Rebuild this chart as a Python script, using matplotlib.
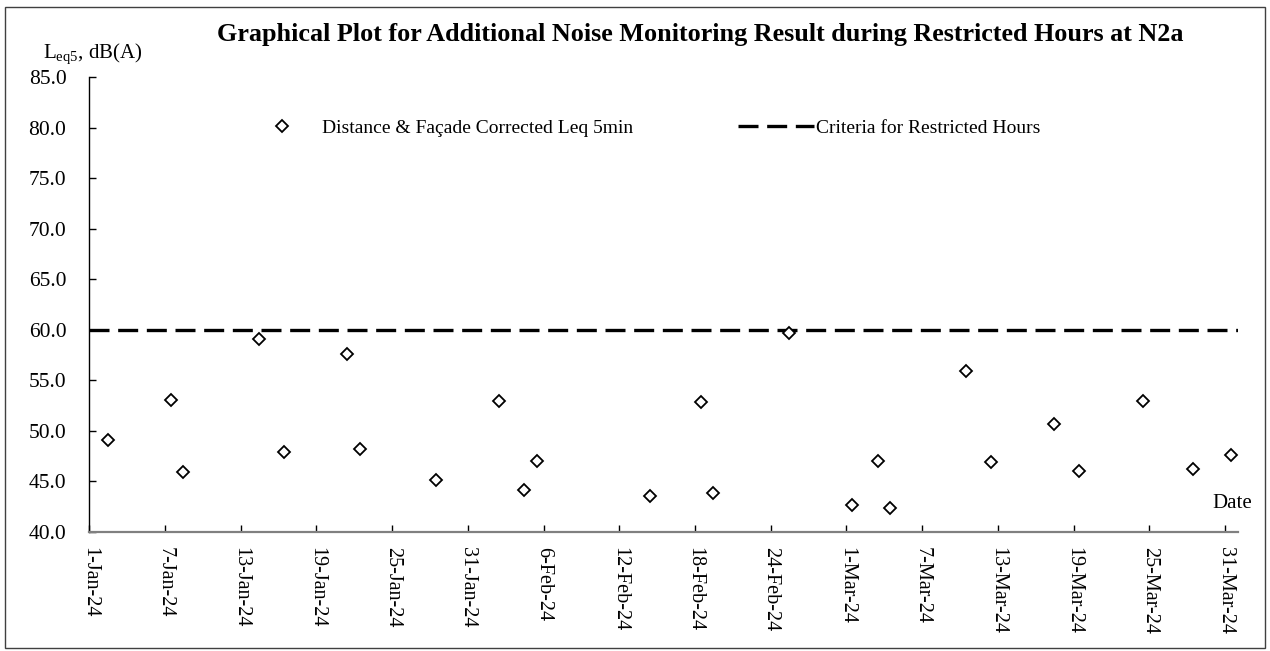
import matplotlib
matplotlib.use("Agg")
import matplotlib.pyplot as plt
import matplotlib.dates as mdates
from matplotlib.patches import Rectangle
from matplotlib.ticker import FuncFormatter, FormatStrFormatter
import numpy as np
import pandas as pd

plt.rcParams['font.family'] = ['Liberation Serif', 'DejaVu Serif']
plt.rcParams['mathtext.fontset'] = 'custom'
plt.rcParams['mathtext.rm'] = 'Liberation Serif'

# measurement dates (restricted hours) and corrected Leq 5min, dB(A)
dates = [
    "2024-01-02", "2024-01-07", "2024-01-08", "2024-01-14", "2024-01-16",
    "2024-01-21", "2024-01-22", "2024-01-28", "2024-02-02", "2024-02-04",
    "2024-02-05", "2024-02-14", "2024-02-18", "2024-02-19", "2024-02-25",
    "2024-03-01", "2024-03-03", "2024-03-04", "2024-03-10", "2024-03-12",
    "2024-03-17", "2024-03-19", "2024-03-24", "2024-03-28", "2024-03-31",
]
meas_time = "11:00"
leq = [
    49.1, 53.1, 45.9, 59.1, 47.9,
    57.6, 48.2, 45.1, 53.0, 44.2,
    47.0, 43.6, 52.9, 43.9, 59.7,
    42.7, 47.0, 42.4, 55.9, 46.9,
    50.7, 46.0, 53.0, 46.2, 47.6,
]
criteria = 60.0

x_start, x_end = "2024-01-01", "2024-04-01"
tick_step_days = 6
y_ticks = np.arange(40, 86, 5)

t = pd.to_datetime([d + " " + meas_time for d in dates])

fig = plt.figure(figsize=(12.7, 6.51), dpi=100)
ax = fig.add_axes([89.3 / 1270, 1 - 532 / 651, (1237.7 - 89.3) / 1270, (532 - 77.3) / 651])

ax.axhline(criteria, color='black', lw=2.4, linestyle=(0, (6, 2.6)),
           label='Criteria for Restricted Hours')
ax.plot(t, leq, linestyle='none', marker='D', ms=6.3, mfc='white', mec='black',
        mew=1.3, label='Distance & Façade Corrected Leq 5min')

ax.set_xlim(pd.Timestamp(x_start), pd.Timestamp(x_end))
ax.set_ylim(40, 85)
ax.set_yticks(y_ticks)
ax.yaxis.set_major_formatter(FormatStrFormatter('%.1f'))

xt = pd.date_range(x_start, "2024-03-31", freq=f"{tick_step_days}D")
ax.set_xticks(xt)
ax.xaxis.set_major_formatter(FuncFormatter(
    lambda v, p: (lambda d: f"{d.day}-{d.strftime('%b-%y')}")(mdates.num2date(v))))

for s in ['top', 'right']:
    ax.spines[s].set_visible(False)
ax.spines['left'].set_color('black')
ax.spines['left'].set_linewidth(1.0)
ax.spines['bottom'].set_color('#808080')
ax.spines['bottom'].set_linewidth(1.6)

ax.tick_params(axis='both', direction='in', length=5, width=1, color='black')
ax.tick_params(axis='y', pad=16.5, labelsize=15.5)
ax.tick_params(axis='x', pad=11, labelrotation=-90, labelsize=14.5)
for lbl in ax.get_xticklabels():
    lbl.set_va('top')
    lbl.set_ha('center')

handles, labels = ax.get_legend_handles_labels()
leg = fig.legend(handles[::-1], labels[::-1], loc='center left',
                 bbox_to_anchor=(244 / 1270, 1 - 128 / 651), ncol=2,
                 frameon=False, fontsize=14, handlelength=3.9, handletextpad=0.12,
                 columnspacing=5.4, borderpad=0, borderaxespad=0)

fig.text(0.551, 1 - 35 / 651, 'Graphical Plot for Additional Noise Monitoring Result during Restricted Hours at N2a',
         ha='center', va='center', fontsize=18.8, fontweight='bold')
fig.text(92.5 / 1270, 1 - 54 / 651, r'L$_{\rm eq5}$, dB(A)', ha='center', va='center', fontsize=15)
fig.text(1252 / 1270, 1 - 503 / 651, 'Date', ha='right', va='center', fontsize=15)

fig.patches.append(Rectangle((5 / 1270, 1 - 648 / 651), 1260 / 1270, 641 / 651,
                             transform=fig.transFigure, fill=False,
                             edgecolor='#404040', lw=1))

fig.savefig("out.png", dpi=100)
